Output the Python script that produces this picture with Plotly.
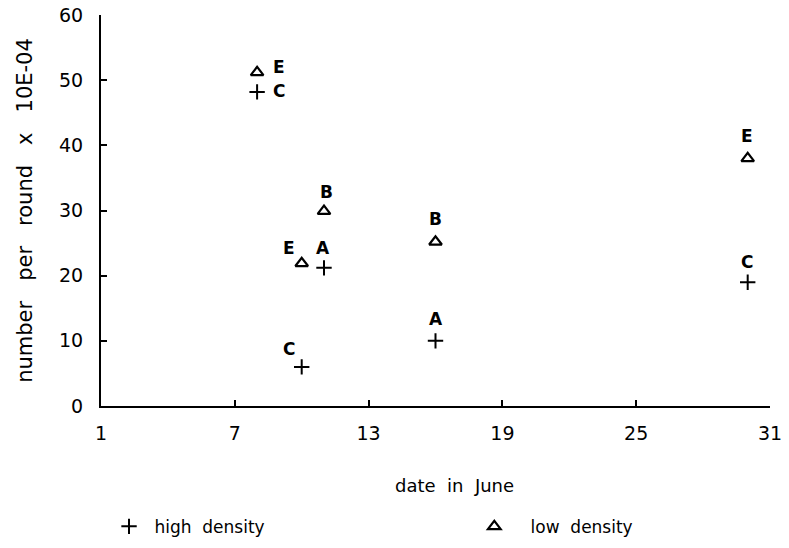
import plotly.graph_objects as go

# data
high_days = [8, 10, 11, 16, 30]
high_vals = [48.2, 6.0, 21.2, 10.0, 19.0]
high_labels = ["C", "C", "A", "A", "C"]

low_days = [8, 10, 11, 16, 30]
low_vals = [51.2, 21.9, 29.9, 25.2, 38.0]
low_labels = ["E", "E", "B", "B", "E"]

x_ticks = [1, 7, 13, 19, 25, 31]
y_ticks = [0, 10, 20, 30, 40, 50, 60]

x_title = "date in June"
y_title = "number per round x 10E-04"

# pixel offsets of the letter labels relative to their markers (style only)
high_label_shift = [(22, 1), (-13, 18), (-1, 20), (0, 22), (-1, 20)]
low_label_shift = [(22, 5), (-13, 15), (2, 19), (0, 23), (-1, 22)]

FONT = "DejaVu Sans"
NB = "\u00a0"

fig = go.Figure()

fig.add_trace(go.Scatter(
    x=high_days, y=high_vals, mode="markers",
    name=NB + "high" + NB * 2 + "density", legend="legend",
    marker=dict(symbol="cross-thin-open", size=11, line=dict(width=2, color="black"), color="black"),
))
fig.add_trace(go.Scatter(
    x=low_days, y=low_vals, mode="markers",
    name=NB * 3 + "low" + NB * 2 + "density", legend="legend2",
    marker=dict(symbol="triangle-up-open", size=11, line=dict(width=2.2, color="black"), color="black"),
))

for days, vals, labels, shifts in [(high_days, high_vals, high_labels, high_label_shift),
                                   (low_days, low_vals, low_labels, low_label_shift)]:
    for d, v, t, (dx, dy) in zip(days, vals, labels, shifts):
        fig.add_annotation(x=d, y=v, text=t, showarrow=False, xshift=dx, yshift=dy,
                           font=dict(family=FONT, size=17, color="black", weight="bold"))

# x-axis title (placed slightly right of centre, as in the reference)
fig.add_annotation(xref="paper", yref="paper", x=0.528, y=-0.2046,
                   xanchor="center", yanchor="middle", showarrow=False,
                   text=x_title.replace(" ", NB * 2),
                   font=dict(family=FONT, size=18, color="black"))

legend_common = dict(orientation="h", yanchor="middle", y=-0.309, xanchor="left",
                     font=dict(family=FONT, size=17, color="black"),
                     bgcolor="rgba(0,0,0,0)")

fig.update_layout(
    width=789, height=548,
    margin=dict(l=101, r=19, t=15, b=142, autoexpand=False),
    paper_bgcolor="white", plot_bgcolor="white",
    font=dict(family=FONT, size=16, color="black"),
    showlegend=True,
    legend=dict(x=0.012, **legend_common),
    legend2=dict(x=0.558, **legend_common),
    xaxis=dict(
        range=[1, 31], tickvals=x_ticks, ticktext=[str(v) for v in x_ticks],
        ticks="inside", ticklen=6, tickwidth=2, tickcolor="black",
        showline=True, linewidth=2, linecolor="black",
        showgrid=False, zeroline=False, automargin=False,
        tickfont=dict(family=FONT, size=19), ticklabelstandoff=9,
    ),
    yaxis=dict(
        range=[0, 60], tickvals=y_ticks,
        ticks="inside", ticklen=6, tickwidth=2, tickcolor="black",
        showline=True, linewidth=2, linecolor="black",
        showgrid=False, zeroline=False, automargin=False,
        tickfont=dict(family=FONT, size=19), ticklabelstandoff=12,
        title=dict(text=y_title.replace(" ", NB * 3),
                   standoff=21, font=dict(family=FONT, size=21)),
    ),
)

fig.write_html("out.html")
